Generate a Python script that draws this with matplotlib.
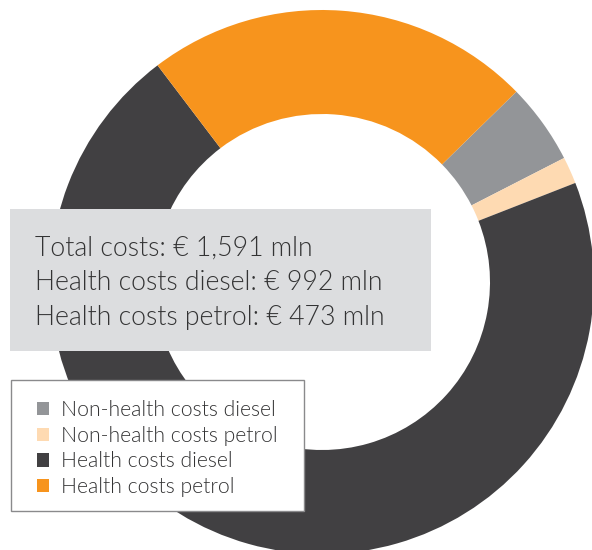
import matplotlib.pyplot as plt
from matplotlib.patches import Rectangle

# shares of the ring (percent)
labels = ['Non-health costs diesel', 'Non-health costs petrol',
          'Health costs diesel', 'Health costs petrol']
shares = [4.8, 1.6, 70.6, 23.0]
colors = ['#939598', '#fedab2', '#414042', '#f7941d']

summary_lines = ['Total costs: € 1,591 mln',
                 'Health costs diesel: € 992 mln',
                 'Health costs petrol: € 473 mln']

W, H = 592, 550
plt.rcParams['font.family'] = ['Lato', 'DejaVu Sans']
text_color = '#333334'

fig = plt.figure(figsize=(W / 100, H / 100), dpi=100)
ax = fig.add_axes([0, 0, 1, 1])

# donut, centre/radius in pixel units of the canvas
r_out, r_in = 272, 168
wedges, _ = ax.pie(shares, colors=colors, startangle=44.4, counterclock=False,
                   center=(322, H - 282), radius=r_out,
                   wedgeprops=dict(width=r_out - r_in, linewidth=0))
ax.set_xlim(0, W)
ax.set_ylim(0, H)
ax.axis('off')

# grey summary box
ax.add_patch(Rectangle((10, H - 351), 421, 142, facecolor='#dcdddf',
                       edgecolor='none', zorder=3))
for i, line in enumerate(summary_lines):
    ax.text(35, H - (248 + 34.5 * i), line, fontsize=19.2, color=text_color,
            fontweight=300, va='center', ha='left', zorder=4)

# legend box
ax.add_patch(Rectangle((11, H - 511), 293, 131.5, facecolor='white',
                       edgecolor='#8a8a8c', linewidth=1.0, zorder=5))
leg = ax.legend(wedges, labels, loc='upper left',
                bbox_to_anchor=(37 / W, 1 - 400 / H),
                bbox_transform=fig.transFigure,
                prop=dict(size=15.2, weight=300), frameon=False,
                handlelength=0.58, handleheight=0.58, handletextpad=0.58,
                labelspacing=0.27, borderpad=0, borderaxespad=0)
leg.set_zorder(6)
for t in leg.get_texts():
    t.set_color(text_color)

fig.savefig('out.png', dpi=100)
